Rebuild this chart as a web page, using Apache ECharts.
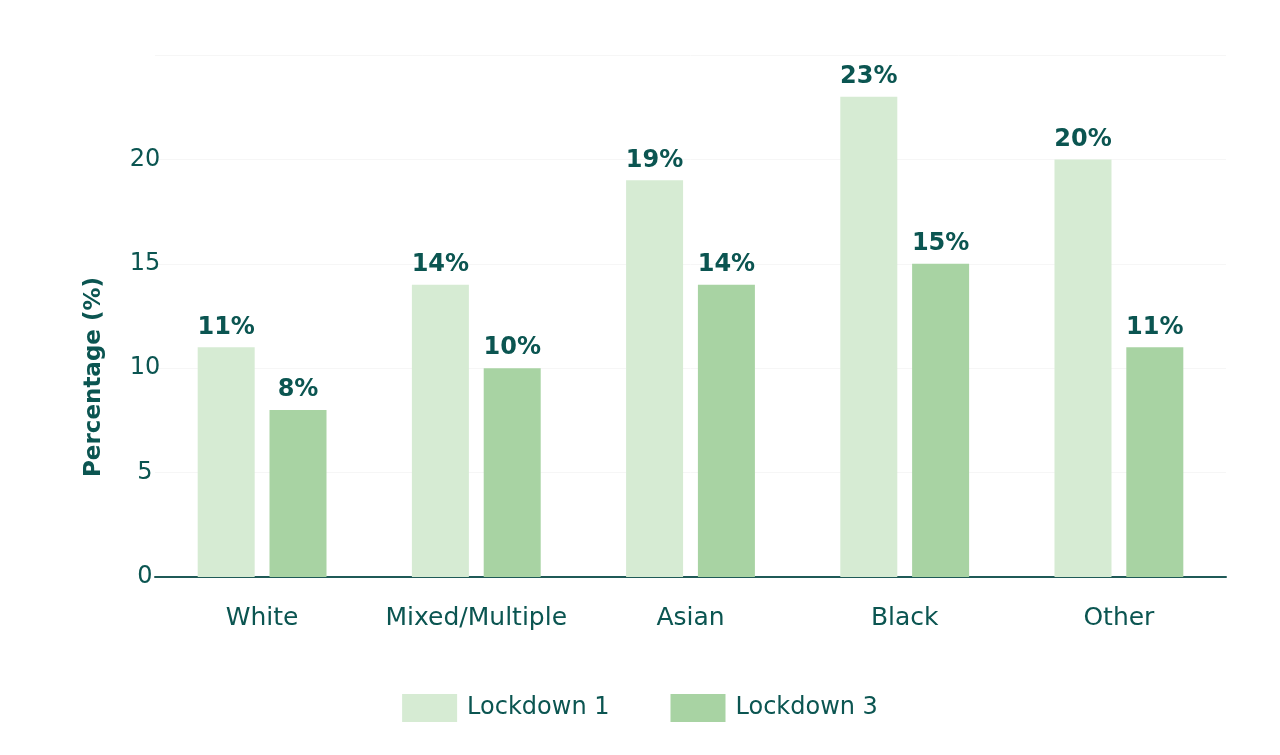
<!DOCTYPE html>
<html>
<head>
<meta charset="utf-8">
<script src="https://cdn.jsdelivr.net/npm/echarts@6/dist/echarts.min.js"></script>
<style>html,body{margin:0;padding:0;background:#fff;}#c{width:1280px;height:755px;}</style>
</head>
<body>
<div id="c"></div>
<script>
const categories = ['White', 'Mixed/Multiple', 'Asian', 'Black', 'Other'];
const lockdown1 = [11, 14, 19, 23, 20];
const lockdown3 = [8, 10, 14, 15, 11];
const seriesNames = ['Lockdown 1', 'Lockdown 3'];
const yTicks = [0, 5, 10, 15, 20];

const textColor = '#0b5551';
const fontFamily = '"DejaVu Sans", Inter, sans-serif';

const chart = echarts.init(document.getElementById('c'));
chart.setOption({
  backgroundColor: '#ffffff',
  textStyle: { fontFamily: fontFamily, color: textColor },
  grid: { left: 155, right: 54, top: 55, bottom: 178 },
  legend: {
    data: seriesNames,
    top: 689,
    left: 'center',
    itemWidth: 55,
    itemHeight: 28,
    itemGap: 61,
    icon: 'rect',
    textStyle: { fontSize: 24, color: textColor, fontFamily: fontFamily, padding: [0, 0, 0, 5] }
  },
  xAxis: {
    type: 'category',
    data: categories,
    axisLine: { lineStyle: { color: '#1f5a57', width: 2 } },
    axisTick: { show: false },
    axisLabel: { interval: 0, fontSize: 25, color: textColor, margin: 29, fontFamily: fontFamily }
  },
  yAxis: {
    type: 'value',
    min: 0,
    max: 25,
    interval: 5,
    name: 'Percentage (%)',
    nameLocation: 'middle',
    nameGap: 49,
    nameRotate: 90,
    nameTextStyle: { fontSize: 23, fontWeight: 'bold', color: textColor, fontFamily: fontFamily, padding: [0, 122, 0, 0] },
    axisLine: { show: false },
    axisTick: { show: false },
    splitLine: { show: true, lineStyle: { color: '#f6f6f6', width: 1 } },
    axisLabel: {
      fontSize: 24, color: textColor, margin: 10, align: 'center', fontFamily: fontFamily,
      showMaxLabel: false,
      formatter: function (v) { return yTicks.indexOf(v) >= 0 ? String(v) : ''; }
    }
  },
  series: [
    {
      name: seriesNames[0],
      type: 'bar',
      data: lockdown1,
      barWidth: 57,
      barGap: '26%',
      itemStyle: { color: '#d6ebd3' },
      label: { show: true, position: 'top', distance: 8, formatter: '{c}%', fontSize: 24, fontWeight: 600, color: textColor, fontFamily: fontFamily }
    },
    {
      name: seriesNames[1],
      type: 'bar',
      data: lockdown3,
      barWidth: 57,
      itemStyle: { color: '#a8d3a3' },
      label: { show: true, position: 'top', distance: 8, formatter: '{c}%', fontSize: 24, fontWeight: 600, color: textColor, fontFamily: fontFamily }
    }
  ]
});
</script>
</body>
</html>
